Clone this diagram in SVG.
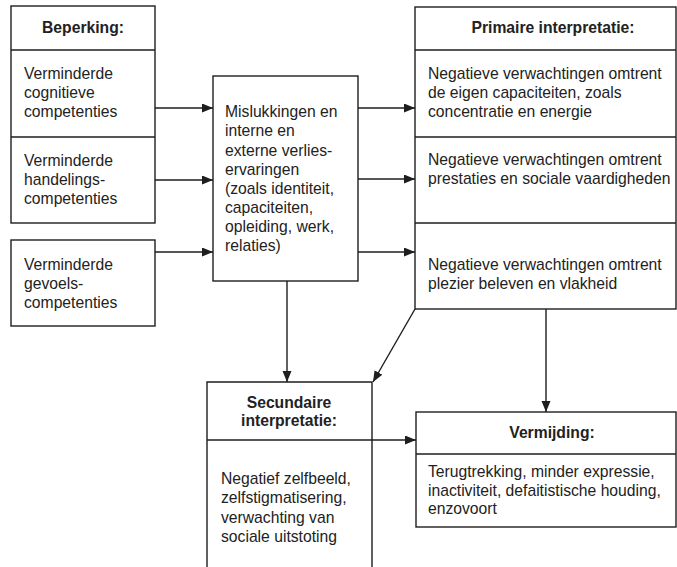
<svg xmlns="http://www.w3.org/2000/svg" width="677" height="567" viewBox="0 0 677 567">
<defs>
<style>
.box{fill:#fff;stroke:#1e1e1e;stroke-width:1.4}
.ln{fill:none;stroke:#1e1e1e;stroke-width:1.4}
.t{font-family:"Liberation Sans",Arial,sans-serif;font-size:15.7px;fill:#222}
.h{font-family:"Liberation Sans",Arial,sans-serif;font-size:15.7px;font-weight:bold;fill:#222;text-anchor:middle}
.c{fill:none;stroke:#1e1e1e;stroke-width:1.4;marker-end:url(#arr)}
</style>
<marker id="arr" markerUnits="userSpaceOnUse" markerWidth="12" markerHeight="10" refX="11" refY="4.5" orient="auto">
<path d="M0,0 L11,4.5 L0,9 z" fill="#1e1e1e"/>
</marker>
</defs>
<rect width="677" height="567" fill="#fff"/>

<g id="beperking">
<rect class="box" x="11" y="6" width="144" height="217"/>
<line class="ln" x1="11" y1="50" x2="155" y2="50"/>
<line class="ln" x1="11" y1="137" x2="155" y2="137"/>
<text class="h" x="83" y="33">Beperking:</text>
<text class="t" x="24" y="79">Verminderde</text>
<text class="t" x="24" y="98">cognitieve</text>
<text class="t" x="24" y="117">competenties</text>
<text class="t" x="24" y="166">Verminderde</text>
<text class="t" x="24" y="185">handelings-</text>
<text class="t" x="24" y="204">competenties</text>
</g>

<g id="gevoels">
<rect class="box" x="11" y="240" width="144" height="86"/>
<text class="t" x="24" y="270">Verminderde</text>
<text class="t" x="24" y="289">gevoels-</text>
<text class="t" x="24" y="308">competenties</text>
</g>

<g id="mislukkingen">
<rect class="box" x="213" y="76" width="145" height="205"/>
<text class="t" x="225" y="117">Mislukkingen en</text>
<text class="t" x="225" y="136">interne en</text>
<text class="t" x="225" y="156">externe verlies-</text>
<text class="t" x="225" y="175">ervaringen</text>
<text class="t" x="225" y="194">(zoals identiteit,</text>
<text class="t" x="225" y="213">capaciteiten,</text>
<text class="t" x="225" y="232">opleiding, werk,</text>
<text class="t" x="225" y="251">relaties)</text>
</g>

<g id="primaire">
<rect class="box" x="415" y="7" width="261" height="302"/>
<line class="ln" x1="415" y1="50" x2="676" y2="50"/>
<line class="ln" x1="415" y1="137" x2="676" y2="137"/>
<line class="ln" x1="415" y1="223" x2="676" y2="223"/>
<text class="h" x="553" y="33">Primaire interpretatie:</text>
<text class="t" x="428" y="79">Negatieve verwachtingen omtrent</text>
<text class="t" x="428" y="98">de eigen capaciteiten, zoals</text>
<text class="t" x="428" y="117">concentratie en energie</text>
<text class="t" x="428" y="165">Negatieve verwachtingen omtrent</text>
<text class="t" x="428" y="184">prestaties en sociale vaardigheden</text>
<text class="t" x="428" y="270">Negatieve verwachtingen omtrent</text>
<text class="t" x="428" y="289">plezier beleven en vlakheid</text>
</g>

<g id="secundaire">
<path class="box" d="M207,570 L207,382 L372,382 L372,570"/>
<line class="ln" x1="207" y1="440" x2="372" y2="440"/>
<text class="h" x="289" y="408">Secundaire</text>
<text class="h" x="289" y="426">interpretatie:</text>
<text class="t" x="221" y="484">Negatief zelfbeeld,</text>
<text class="t" x="221" y="503">zelfstigmatisering,</text>
<text class="t" x="221" y="523">verwachting van</text>
<text class="t" x="221" y="542">sociale uitstoting</text>
</g>

<g id="vermijding">
<rect class="box" x="416" y="412" width="260" height="115"/>
<line class="ln" x1="416" y1="454" x2="676" y2="454"/>
<text class="h" x="552" y="438">Vermijding:</text>
<text class="t" x="428" y="477">Terugtrekking, minder expressie,</text>
<text class="t" x="428" y="496">inactiviteit, defaitistische houding,</text>
<text class="t" x="428" y="514">enzovoort</text>
</g>

<g id="connectors">
<line class="c" x1="155" y1="108" x2="213" y2="108"/>
<line class="c" x1="155" y1="180" x2="213" y2="180"/>
<line class="c" x1="155" y1="252" x2="213" y2="252"/>
<line class="c" x1="358" y1="108" x2="415" y2="108"/>
<line class="c" x1="358" y1="179" x2="415" y2="179"/>
<line class="c" x1="358" y1="252" x2="415" y2="252"/>
<line class="c" x1="287" y1="281" x2="287" y2="382"/>
<line class="c" x1="415" y1="309" x2="373" y2="382"/>
<line class="c" x1="372" y1="440" x2="416" y2="440"/>
<line class="c" x1="546" y1="309" x2="546" y2="412"/>
</g>
</svg>
